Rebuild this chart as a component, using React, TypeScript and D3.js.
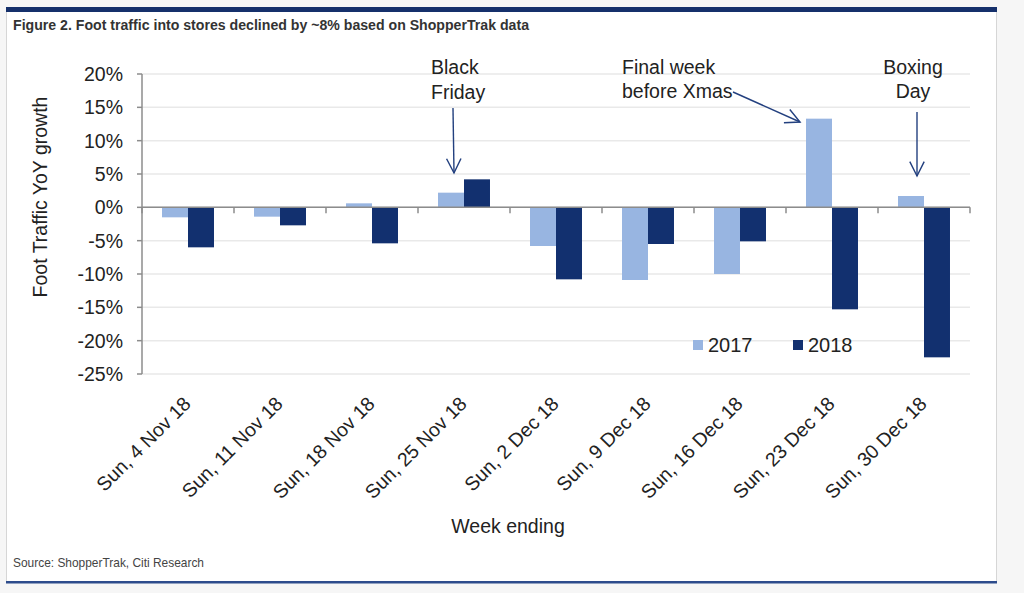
import React from "react";
import * as d3 from "d3";

const categories = [
  "Sun, 4 Nov 18",
  "Sun, 11 Nov 18",
  "Sun, 18 Nov 18",
  "Sun, 25 Nov 18",
  "Sun, 2 Dec 18",
  "Sun, 9 Dec 18",
  "Sun, 16 Dec 18",
  "Sun, 23 Dec 18",
  "Sun, 30 Dec 18",
];
const values2017 = [-1.5, -1.4, 0.6, 2.2, -5.8, -10.9, -10.0, 13.3, 1.7];
const values2018 = [-6.0, -2.7, -5.4, 4.2, -10.8, -5.5, -5.1, -15.3, -22.5];
const seriesNames = ["2017", "2018"];
const yTicks = [20, 15, 10, 5, 0, -5, -10, -15, -20, -25];

const LIGHT = "#98b5e1";
const DARK = "#12306f";
const ARROW = "#23407f";
const FONT = "'Liberation Sans', Arial, sans-serif";
const NARROW = "'Liberation Sans Narrow', 'Arial Narrow', 'Liberation Sans', Arial, sans-serif";

export default function App() {
  const W = 1024;
  const H = 593;
  const left = 142;
  const right = 970;
  const top = 74;
  const bottom = 374;

  const y = d3.scaleLinear().domain([-25, 20]).range([bottom, top]);
  const x0 = d3.scaleBand<string>().domain(categories).range([left, right]).padding(0);
  const x1 = d3
    .scaleBand<string>()
    .domain(seriesNames)
    .range([0, x0.bandwidth()])
    .paddingInner(0)
    .paddingOuter(0.77);

  const seriesValues = [values2017, values2018];
  const colors = [LIGHT, DARK];
  const y0 = y(0);

  const boundaries = categories.map((c) => x0(c)!).concat([right]);

  return (
    <svg
      width={W}
      height={H}
      style={{ position: "absolute", left: 0, top: 0, background: "#f6f6f6" }}
    >
      <defs>
        <marker
          id="arr"
          viewBox="0 0 20 20"
          refX="18"
          refY="10"
          markerWidth="18"
          markerHeight="18"
          markerUnits="userSpaceOnUse"
          orient="auto"
        >
          <path d="M2,2 L18,10 L2,18" fill="none" stroke={ARROW} strokeWidth={1.6} />
        </marker>
      </defs>
      {/* frame */}
      <rect x={6} y={7} width={990} height={576} fill="#ffffff" />
      <line x1={6.5} y1={12} x2={6.5} y2={581} stroke="#d6d6d6" strokeWidth={1} />
      <line x1={996.5} y1={12} x2={996.5} y2={581} stroke="#d6d6d6" strokeWidth={1} />
      <rect x={6} y={7} width={991} height={5} fill="#15306b" />
      <rect x={6} y={581} width={991} height={2.5} fill="#2d4c8c" />

      {/* title */}
      <text
        x={13}
        y={30}
        fontFamily={NARROW}
        fontWeight="bold"
        fontSize={14}
        fill="#333"
        textLength={516}
        lengthAdjust="spacingAndGlyphs"
      >
        Figure 2. Foot traffic into stores declined by ~8% based on ShopperTrak data
      </text>

      {/* gridlines */}
      {yTicks.map((t) => (
        <line
          key={"g" + t}
          x1={left}
          x2={right}
          y1={y(t)}
          y2={y(t)}
          stroke="#e9e9e9"
          strokeWidth={1.5}
        />
      ))}

      {/* bars */}
      {seriesValues.map((vals, si) =>
        categories.map((c, i) => {
          const v = vals[i];
          const bx = x0(c)! + x1(seriesNames[si])!;
          return (
            <rect
              key={si + "-" + i}
              x={bx}
              y={Math.min(y(v), y0)}
              width={x1.bandwidth()}
              height={Math.abs(y(v) - y0)}
              fill={colors[si]}
            />
          );
        })
      )}

      {/* y axis */}
      <line x1={left} x2={left} y1={top} y2={bottom} stroke="#8c8c8c" strokeWidth={1.5} />
      {yTicks.map((t) => (
        <g key={"t" + t}>
          <line x1={left - 5} x2={left} y1={y(t)} y2={y(t)} stroke="#8c8c8c" strokeWidth={1.5} />
          <text
            x={123}
            y={y(t)}
            dy="0.36em"
            textAnchor="end"
            fontFamily={FONT}
            fontSize={19.5}
            fill="#222"
          >
            {t + "%"}
          </text>
        </g>
      ))}

      {/* x axis at zero */}
      <line x1={left} x2={right} y1={y0} y2={y0} stroke="#8c8c8c" strokeWidth={1.5} />
      {boundaries.map((b, i) => (
        <line key={"xb" + i} x1={b} x2={b} y1={y0} y2={y0 + 6} stroke="#8c8c8c" strokeWidth={1.5} />
      ))}

      {/* x labels */}
      {categories.map((c) => {
        const cx = x0(c)! + x0.bandwidth() / 2 + 4;
        return (
          <text
            key={"xl" + c}
            transform={`translate(${cx},405) rotate(-45)`}
            textAnchor="end"
            fontFamily={FONT}
            fontSize={19.5}
            fill="#222"
          >
            {c}
          </text>
        );
      })}

      {/* axis titles */}
      <text
        transform={`translate(47,197) rotate(-90)`}
        textAnchor="middle"
        fontFamily={FONT}
        fontSize={19.5}
        fill="#222"
      >
        Foot Traffic YoY growth
      </text>
      <text x={508} y={533} textAnchor="middle" fontFamily={FONT} fontSize={19.5} fill="#222">
        Week ending
      </text>

      {/* legend */}
      {seriesNames.map((s, i) => (
        <g key={"lg" + s}>
          <rect x={693 + i * 100} y={340} width={10} height={10} fill={colors[i]} />
          <text x={708 + i * 100} y={352} fontFamily={FONT} fontSize={20} fill="#222">
            {s}
          </text>
        </g>
      ))}

      {/* annotations */}
      <g fontFamily={FONT} fontSize={19.5} fill="#222">
        <text x={431} y={74}>Black</text>
        <text x={431} y={99}>Friday</text>
        <text x={622} y={74}>Final week</text>
        <text x={622} y={98}>before Xmas</text>
        <text x={913} y={74} textAnchor="middle">Boxing</text>
        <text x={913} y={98} textAnchor="middle">Day</text>
      </g>
      <line x1={453} y1={108} x2={454} y2={173} stroke={ARROW} strokeWidth={1.4} markerEnd="url(#arr)" />
      <line x1={733} y1={92} x2={800} y2={122} stroke={ARROW} strokeWidth={1.4} markerEnd="url(#arr)" />
      <line x1={917} y1={112} x2={917} y2={176} stroke={ARROW} strokeWidth={1.4} markerEnd="url(#arr)" />

      {/* source */}
      <text
        x={13}
        y={567}
        fontFamily={NARROW}
        fontSize={13}
        fill="#444"
        textLength={191}
        lengthAdjust="spacingAndGlyphs"
      >
        Source: ShopperTrak, Citi Research
      </text>
    </svg>
  );
}
